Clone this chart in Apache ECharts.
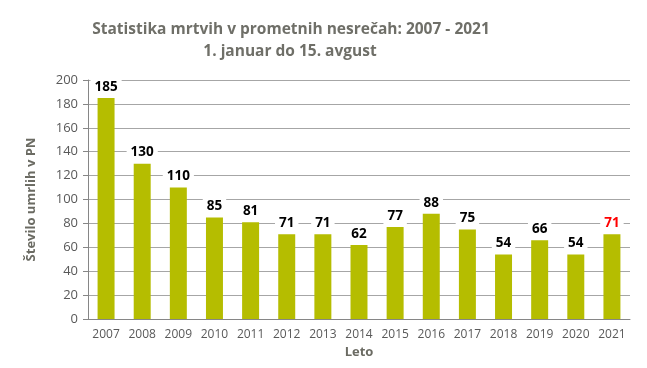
<!DOCTYPE html>
<html><head><meta charset="utf-8">
<script src="https://cdn.jsdelivr.net/npm/echarts@6/dist/echarts.min.js"></script>
<style>html,body{margin:0;padding:0;background:#fff}#c{width:647px;height:368px}</style>
</head><body><div id="c"></div>
<script>
const categories = ['2007','2008','2009','2010','2011','2012','2013','2014','2015','2016','2017','2018','2019','2020','2021'];
const values = [185,130,110,85,81,71,71,62,77,88,75,54,66,54,71];
const yTicks = [0,20,40,60,80,100,120,140,160,180,200];
const titleLines = ['Statistika mrtvih v prometnih nesrečah: 2007 - 2021','1. januar do 15. avgust'];
const chart = echarts.init(document.getElementById('c'));
const font = '"Open Sans", "Liberation Sans", sans-serif';
const tStyle = {fontFamily:font,fontSize:15.5,fontWeight:'bold',color:'#6f6f68'};
chart.setOption({
  animation:false,
  title:[
    {text:titleLines[0],left:286,top:17,textAlign:'center',textStyle:tStyle},
    {text:titleLines[1],left:285,top:39,textAlign:'center',textStyle:tStyle}
  ],
  grid:{left:88,right:17,top:80,bottom:49},
  xAxis:{type:'category',data:categories,
    name:'Leto',nameLocation:'middle',nameGap:27,
    nameTextStyle:{fontFamily:font,fontSize:13,fontWeight:'bold',color:'#6b6b63'},
    axisLine:{lineStyle:{color:'#868686'}},axisTick:{show:false},
    axisLabel:{fontFamily:font,fontSize:12,color:'#595959',margin:10}},
  yAxis:{type:'value',min:0,max:200,interval:20,
    name:'Število umrlih v PN',nameLocation:'middle',nameGap:50,
    nameTextStyle:{fontFamily:font,fontSize:13,fontWeight:'bold',color:'#6b6b63'},
    axisLine:{show:true,lineStyle:{color:'#868686'}},
    axisTick:{show:true,length:5,lineStyle:{color:'#868686'}},
    axisLabel:{fontFamily:font,fontSize:13,color:'#595959',margin:10,
      formatter:v=>yTicks.includes(v)?String(v):''},
    splitLine:{lineStyle:{color:'#a6a6a6'}}},
  series:[{type:'bar',barWidth:'47%',
    data:values.map((v,i)=>({value:v,label:{color:i===values.length-1?'#ff0000':'#000'}})),
    itemStyle:{color:'#b5bd00'},
    label:{show:true,position:'top',distance:2,fontFamily:font,fontSize:13.5,fontWeight:'bold',
      backgroundColor:'#fff',padding:[2,4]}}]
});
</script></body></html>
